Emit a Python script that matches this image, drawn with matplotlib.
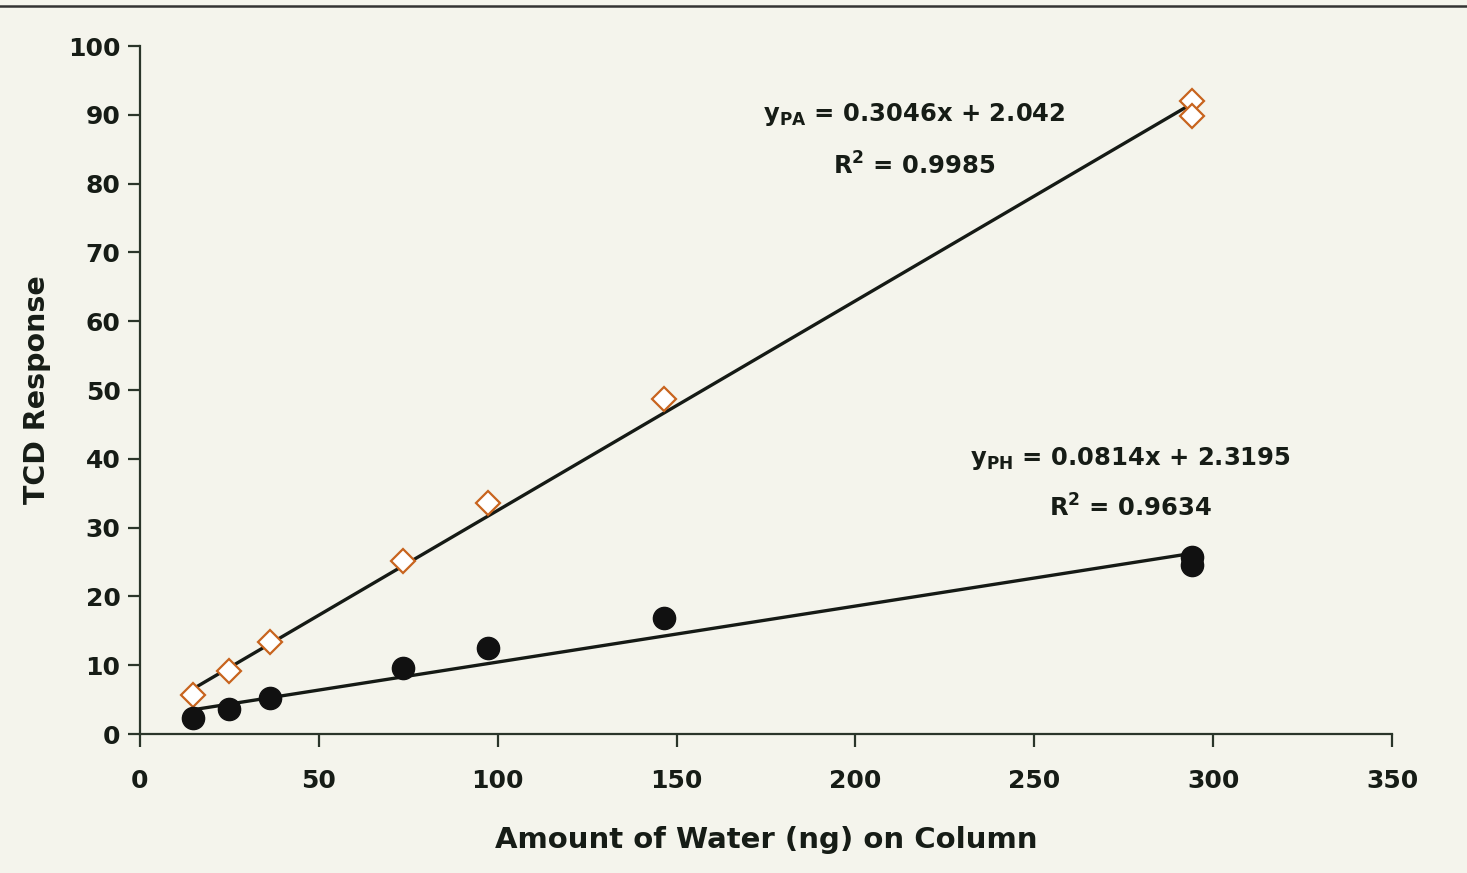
import numpy as np
import matplotlib.pyplot as plt

plt.rcParams['font.family'] = ['DejaVu Sans']
plt.rcParams['font.weight'] = 'bold'
plt.rcParams['mathtext.fontset'] = 'custom'
plt.rcParams['mathtext.rm'] = 'DejaVu Sans:bold'
plt.rcParams['mathtext.it'] = 'DejaVu Sans:bold'
plt.rcParams['mathtext.bf'] = 'DejaVu Sans:bold'

# data
water_ng = [14.7, 24.9, 36.3, 73.5, 97.3, 146.5, 294.0, 294.0]
pa_resp = [5.6, 9.2, 13.4, 25.1, 33.6, 48.7, 92.0, 89.8]
ph_resp = [2.3, 3.6, 5.2, 9.6, 12.5, 16.9, 25.7, 24.6]

# trend lines as given on the chart
pa_slope, pa_icpt = 0.3046, 2.042
ph_slope, ph_icpt = 0.0814, 2.3195

bg = '#f4f4ec'
axcol = '#2a352a'
txtcol = '#161c16'

fig = plt.figure(figsize=(14.67, 8.73), dpi=100, facecolor=bg)
ax = fig.add_axes([0.0954, 0.1592, 0.8535, 0.7881], facecolor=bg)

xl = np.array([min(water_ng), max(water_ng)])
ax.plot(xl, pa_slope * xl + pa_icpt, color='#151a15', lw=2.4, zorder=2)
ax.plot(xl, ph_slope * xl + ph_icpt, color='#151a15', lw=2.4, zorder=2)

ax.plot(water_ng, pa_resp, 'D', ms=12.5, mfc='white', mec='#c8641e', mew=1.6,
        ls='none', zorder=3)
ax.plot(water_ng, ph_resp, 'o', ms=16, mfc='#111111', mec='#111111',
        ls='none', zorder=3)

ax.set_xlim(0, 350)
ax.set_ylim(0, 100)
ax.set_xticks(np.arange(0, 351, 50))
ax.set_yticks(np.arange(0, 101, 10))

for s in ['top', 'right']:
    ax.spines[s].set_visible(False)
for s in ['left', 'bottom']:
    ax.spines[s].set_color(axcol)
    ax.spines[s].set_linewidth(1.6)

ax.tick_params(axis='both', colors=axcol, width=1.6, labelsize=18,
               labelcolor=txtcol)
ax.tick_params(axis='y', length=9, pad=5)
ax.tick_params(axis='x', length=9, pad=16)

ax.set_xlabel('Amount of Water (ng) on Column', fontsize=21, fontweight='bold',
              labelpad=24, color=txtcol)
ax.set_ylabel('TCD Response', fontsize=20.5, fontweight='bold', labelpad=12,
              color=txtcol)

ax.text(216.5, 90.1, r'y$_{\rm PA}$ = 0.3046x + 2.042', fontsize=17.5,
        ha='center', va='center', color=txtcol)
ax.text(216.5, 82.6, r'R$^{\rm 2}$ = 0.9985', fontsize=17.5,
        ha='center', va='center', color=txtcol)
ax.text(277, 40.1, r'y$_{\rm PH}$ = 0.0814x + 2.3195', fontsize=17.5,
        ha='center', va='center', color=txtcol)
ax.text(277, 32.9, r'R$^{\rm 2}$ = 0.9634', fontsize=17.5,
        ha='center', va='center', color=txtcol)

# border line across the top of the figure
fig.add_artist(plt.Line2D([0, 1], [0.993, 0.993], color='#333333', lw=1.8,
                          transform=fig.transFigure))

fig.savefig('out.png', dpi=100, facecolor=bg)
